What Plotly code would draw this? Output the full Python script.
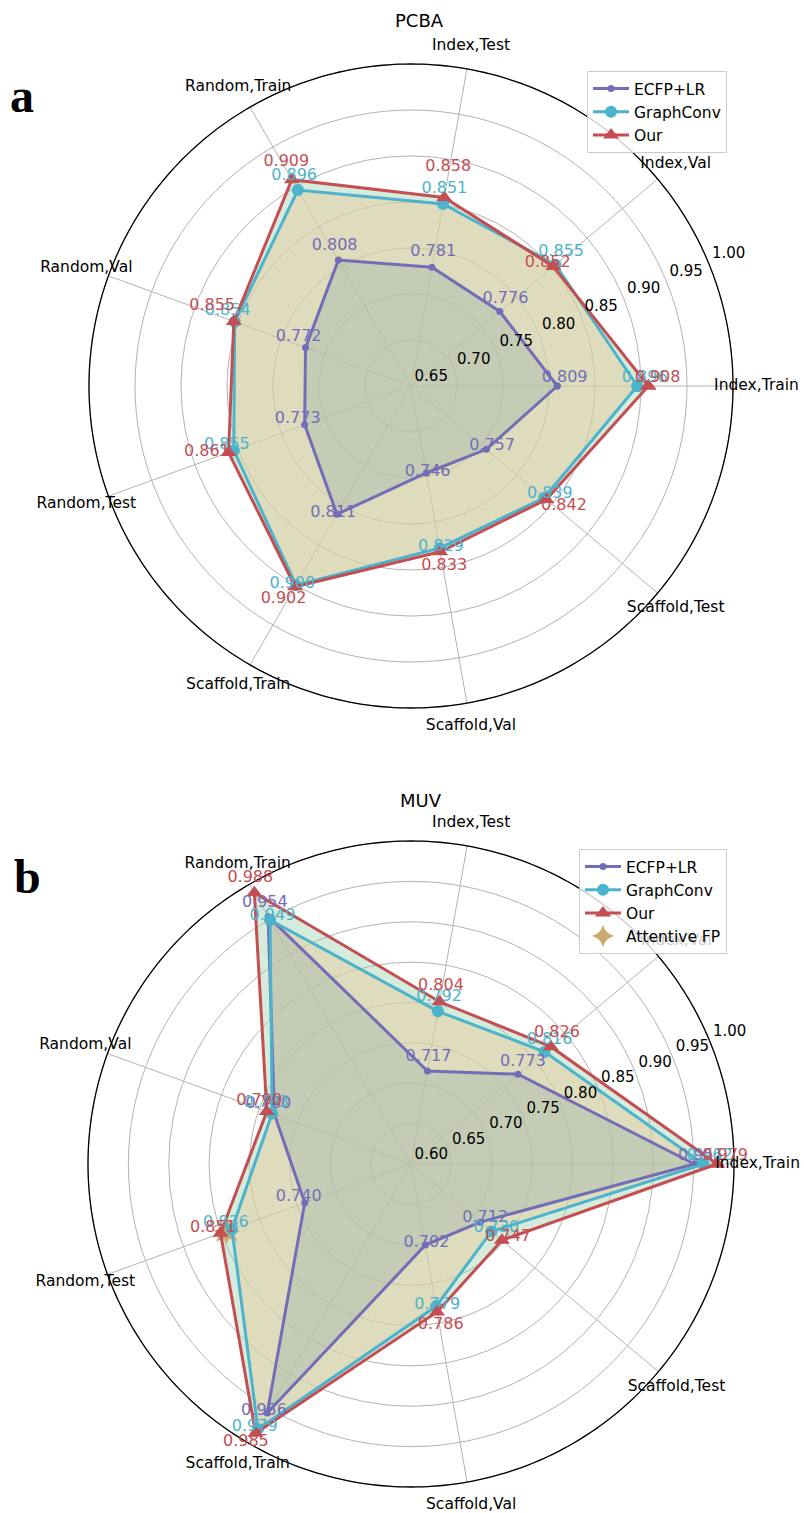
import plotly.graph_objects as go

# ---------------------------------------------------------------- data
categories = ["Index,Train", "Index,Val", "Index,Test",
              "Random,Train", "Random,Val", "Random,Test",
              "Scaffold,Train", "Scaffold,Val", "Scaffold,Test"]

pcba_ecfp_lr = [0.809, 0.776, 0.781, 0.808, 0.772, 0.773, 0.811, 0.746, 0.757]
pcba_graphconv = [0.896, 0.855, 0.851, 0.896, 0.854, 0.855, 0.900, 0.829, 0.839]
pcba_our = [0.908, 0.852, 0.858, 0.909, 0.855, 0.861, 0.902, 0.833, 0.842]

muv_ecfp_lr = [0.951, 0.773, 0.717, 0.954, 0.780, 0.740, 0.956, 0.702, 0.712]
muv_graphconv = [0.962, 0.816, 0.792, 0.949, 0.783, 0.836, 0.979, 0.779, 0.730]
muv_our = [0.979, 0.826, 0.804, 0.988, 0.790, 0.851, 0.985, 0.786, 0.747]
muv_attentive_fp_categories = ["Random,Test"]
muv_attentive_fp = [0.843]

pcba_ticks = [0.65, 0.70, 0.75, 0.80, 0.85, 0.90, 0.95, 1.00]
muv_ticks = [0.60, 0.65, 0.70, 0.75, 0.80, 0.85, 0.90, 0.95, 1.00]

# ---------------------------------------------------------------- styles
FONT = "DejaVu Sans"
GRID = "#b3b3b3"
COLORS = {"ECFP+LR": "#736db8", "GraphConv": "#4cb3cc", "Our": "#c44e52"}
FILLS = {"ECFP+LR": "rgba(160,180,170,0.40)",
         "GraphConv": "rgba(231,205,157,0.50)",
         "Our": "rgba(150,205,165,0.40)"}
MARKERS = {"ECFP+LR": dict(symbol="circle", size=7),
           "GraphConv": dict(symbol="circle", size=12),
           "Our": dict(symbol="triangle-up", size=14)}
ATTENTIVE_COLOR = "#c9aa6c"
OUTER_PAD = 0.08      # room beyond the last ring for the category names

step = 360.0 / len(categories)
theta_of = {c: i * step for i, c in enumerate(categories)}
thetas = [theta_of[c] for c in categories]

W, H = 804, 1513

fig = go.Figure()


def add_radar(subplot, legend, series, ticks, label_nudge, overrides):
    lo, hi = ticks[0], ticks[-1]
    span = hi - lo
    closed_theta = thetas + [thetas[0]]

    # spokes and the black outer ring (stop at the last tick)
    spoke_r, spoke_t = [], []
    for t in thetas:
        spoke_r += [lo, hi, None]
        spoke_t += [t, t, None]
    fig.add_trace(go.Scatterpolar(
        r=spoke_r, theta=spoke_t, mode="lines", line=dict(color=GRID, width=1),
        showlegend=False, hoverinfo="skip", subplot=subplot))
    ring_t = list(range(0, 361))
    fig.add_trace(go.Scatterpolar(
        r=[hi] * len(ring_t), theta=ring_t, mode="lines",
        line=dict(color="black", width=1.3),
        showlegend=False, hoverinfo="skip", subplot=subplot))

    # filled areas underneath the outlines
    for name in ["Our", "GraphConv", "ECFP+LR"]:
        vals = series[name]
        fig.add_trace(go.Scatterpolar(
            r=vals + [vals[0]], theta=closed_theta, mode="lines",
            fill="toself", fillcolor=FILLS[name], line=dict(width=0),
            showlegend=False, hoverinfo="skip", subplot=subplot))

    if "Attentive FP" in series:
        cats, vals = series["Attentive FP"]
        th = [theta_of[c] for c in cats]
        for k, sym in enumerate(["star-diamond", "star-square"]):
            fig.add_trace(go.Scatterpolar(
                r=vals, theta=th, mode="markers",
                marker=dict(symbol=sym, size=19, color=ATTENTIVE_COLOR,
                            line=dict(width=0)),
                name="Attentive FP", legend=legend, legendrank=4,
                showlegend=(k == 0), hoverinfo="skip" if k else None,
                subplot=subplot))

    # outlines with markers
    for rank, name in enumerate(["ECFP+LR", "GraphConv", "Our"], start=1):
        vals = series[name]
        fig.add_trace(go.Scatterpolar(
            r=vals + [vals[0]], theta=closed_theta, mode="lines+markers",
            line=dict(color=COLORS[name], width=3),
            marker=dict(color=COLORS[name], **MARKERS[name]),
            name=name, legend=legend, legendrank=rank, subplot=subplot))

    # value labels
    for name in ["ECFP+LR", "GraphConv", "Our"]:
        vals = series[name]
        rs = [v + overrides.get((name, c), label_nudge[name])
              for c, v in zip(categories, vals)]
        fig.add_trace(go.Scatterpolar(
            r=rs, theta=thetas, mode="text",
            text=[f"{v:.3f}" for v in vals], textposition="top center",
            textfont=dict(family=FONT, size=16, color=COLORS[name]),
            cliponaxis=False, showlegend=False, hoverinfo="skip",
            subplot=subplot))

    # radial tick labels along 22.5 degrees
    fig.add_trace(go.Scatterpolar(
        r=[t + 0.068 * span for t in ticks], theta=[22.5] * len(ticks),
        mode="text", text=[f"{t:.2f}" for t in ticks],
        textposition="middle center",
        textfont=dict(family=FONT, size=15, color="black"),
        cliponaxis=False, showlegend=False, hoverinfo="skip",
        subplot=subplot))

    # category names just outside the outer ring
    fig.add_trace(go.Scatterpolar(
        r=[hi + 0.073 * span] * len(categories), theta=thetas,
        mode="text", text=categories, textposition="middle center",
        textfont=dict(family=FONT, size=15.5, color="black"),
        cliponaxis=False, showlegend=False, hoverinfo="skip",
        subplot=subplot))


add_radar(
    "polar", "legend",
    {"ECFP+LR": pcba_ecfp_lr, "GraphConv": pcba_graphconv, "Our": pcba_our},
    pcba_ticks,
    {"ECFP+LR": 0.008, "GraphConv": 0.008, "Our": 0.025},
    {("Our", "Index,Train"): 0.010, ("Our", "Index,Val"): -0.008,
     ("Our", "Random,Train"): 0.012})

add_radar(
    "polar2", "legend2",
    {"ECFP+LR": muv_ecfp_lr, "GraphConv": muv_graphconv, "Our": muv_our,
     "Attentive FP": (muv_attentive_fp_categories, muv_attentive_fp)},
    muv_ticks,
    {"ECFP+LR": 0.008, "GraphConv": 0.008, "Our": 0.010},
    {("Our", "Scaffold,Train"): 0.024, ("Our", "Scaffold,Val"): 0.026,
     ("GraphConv", "Random,Train"): -0.006})


def polar_layout(ticks, cx, cy, ring_px):
    lo, hi = ticks[0], ticks[-1]
    top = hi + OUTER_PAD * (hi - lo)
    half = ring_px * (1 + OUTER_PAD)
    return dict(
        domain=dict(x=[(cx - half) / W, (cx + half) / W],
                    y=[max(0, 1 - (cy + half) / H), min(1, 1 - (cy - half) / H)]),
        bgcolor="rgba(0,0,0,0)",
        radialaxis=dict(range=[lo, top], tickvals=ticks,
                        showticklabels=False, ticks="", showline=False,
                        gridcolor=GRID, gridwidth=1),
        angularaxis=dict(type="linear", rotation=0,
                         direction="counterclockwise", tickvals=thetas,
                         showticklabels=False, ticks="", showgrid=False,
                         showline=False),
    )


legend_style = dict(xanchor="right", yanchor="top",
                    bgcolor="rgba(255,255,255,0.8)",
                    bordercolor="#cccccc", borderwidth=1,
                    font=dict(family=FONT, size=15.5, color="black"),
                    tracegroupgap=0, itemwidth=36)

fig.update_layout(
    width=W, height=H, margin=dict(l=0, r=0, t=0, b=0),
    paper_bgcolor="white", plot_bgcolor="white",
    font=dict(family=FONT, size=15.5, color="black"),
    polar=polar_layout(pcba_ticks, 411, 386, 322),
    polar2=polar_layout(muv_ticks, 411, 1164, 323),
    legend=dict(x=727 / W, y=1 - 71 / H, **legend_style),
    legend2=dict(x=727 / W, y=1 - 849 / H, **legend_style),
    annotations=[
        dict(text="PCBA", x=420 / W, y=1 - 20 / H, xref="paper", yref="paper",
             xanchor="center", yanchor="middle",
             showarrow=False, font=dict(family=FONT, size=18)),
        dict(text="MUV", x=421 / W, y=1 - 800 / H, xref="paper", yref="paper",
             xanchor="center", yanchor="middle",
             showarrow=False, font=dict(family=FONT, size=18)),
        dict(text="<b>a</b>", x=22 / W, y=1 - 95 / H, xref="paper", yref="paper",
             xanchor="center", yanchor="middle",
             showarrow=False, font=dict(family="Liberation Serif", size=48)),
        dict(text="<b>b</b>", x=27 / W, y=1 - 876 / H, xref="paper", yref="paper",
             xanchor="center", yanchor="middle",
             showarrow=False, font=dict(family="Liberation Serif", size=48)),
    ],
)

fig.write_html("out.html")
